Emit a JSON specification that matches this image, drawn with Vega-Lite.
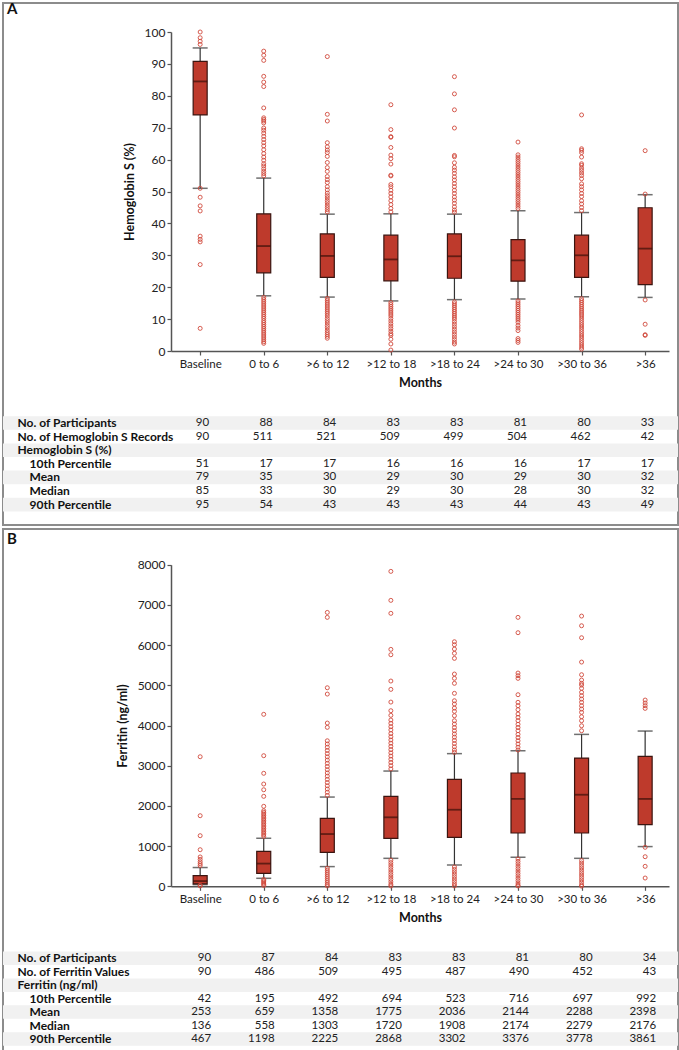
{
"$schema": "https://vega.github.io/schema/vega-lite/v6.json",
"padding": {"left": 2, "top": 1, "right": 0, "bottom": 0},
"background": "white",
"spacing": 2,
"config": {
  "font": "Lato",
  "view": {"stroke": "#8c8c8c", "strokeWidth": 2},
  "axis": {"labelFont": "Lato", "titleFont": "Lato", "labelColor": "#222", "titleColor": "#111", "domainColor": "#555", "tickColor": "#555", "grid": false},
  "title": {"font": "Lato"}
},
"datasets": {
  "boxA": [
    {"cat": "Baseline", "lo": 51, "q1": 74, "med": 84.5, "q3": 90.8, "hi": 95},
    {"cat": "0 to 6", "lo": 17.3, "q1": 24.5, "med": 32.9, "q3": 43, "hi": 54.2},
    {"cat": ">6 to 12", "lo": 16.9, "q1": 23.1, "med": 29.8, "q3": 36.7, "hi": 42.9},
    {"cat": ">12 to 18", "lo": 15.7, "q1": 22, "med": 28.7, "q3": 36.3, "hi": 43},
    {"cat": ">18 to 24", "lo": 16.1, "q1": 22.8, "med": 29.7, "q3": 36.7, "hi": 42.9},
    {"cat": ">24 to 30", "lo": 16.3, "q1": 21.9, "med": 28.4, "q3": 34.9, "hi": 44},
    {"cat": ">30 to 36", "lo": 17, "q1": 23.1, "med": 30, "q3": 36.3, "hi": 43.4},
    {"cat": ">36", "lo": 16.8, "q1": 20.8, "med": 32.1, "q3": 44.9, "hi": 49}
  ],
  "outA": [
    {"cat":"Baseline","v":100},{"cat":"Baseline","v":98.2},{"cat":"Baseline","v":97.1},{"cat":"Baseline","v":96.1},{"cat":"Baseline","v":51},{"cat":"Baseline","v":48.2},{"cat":"Baseline","v":45.5},{"cat":"Baseline","v":43.9},{"cat":"Baseline","v":36},{"cat":"Baseline","v":35},{"cat":"Baseline","v":34.2},{"cat":"Baseline","v":27.1},{"cat":"Baseline","v":7.1},
    {"cat":"0 to 6","v":94},{"cat":"0 to 6","v":92.7},{"cat":"0 to 6","v":91.1},{"cat":"0 to 6","v":86.1},{"cat":"0 to 6","v":84.3},{"cat":"0 to 6","v":82.9},{"cat":"0 to 6","v":76.2},{"cat":"0 to 6","v":73.1},{"cat":"0 to 6","v":72.6},{"cat":"0 to 6","v":72.1},{"cat":"0 to 6","v":71.5},{"cat":"0 to 6","v":69.9},{"cat":"0 to 6","v":69.2},{"cat":"0 to 6","v":68.3},{"cat":"0 to 6","v":67.3},{"cat":"0 to 6","v":66.3},{"cat":"0 to 6","v":65.3},{"cat":"0 to 6","v":64.3},{"cat":"0 to 6","v":63.1},{"cat":"0 to 6","v":61.9},{"cat":"0 to 6","v":60.8},{"cat":"0 to 6","v":59.8},{"cat":"0 to 6","v":58.7},{"cat":"0 to 6","v":58},{"cat":"0 to 6","v":57.1},{"cat":"0 to 6","v":56.3},{"cat":"0 to 6","v":55.6},{"cat":"0 to 6","v":54.9},
    {"cat":"0 to 6","v":16.8},{"cat":"0 to 6","v":16.2},{"cat":"0 to 6","v":15.6},{"cat":"0 to 6","v":15},{"cat":"0 to 6","v":14.4},{"cat":"0 to 6","v":13.8},{"cat":"0 to 6","v":13.2},{"cat":"0 to 6","v":12.6},{"cat":"0 to 6","v":12},{"cat":"0 to 6","v":11.4},{"cat":"0 to 6","v":10.8},{"cat":"0 to 6","v":10.2},{"cat":"0 to 6","v":9.5},{"cat":"0 to 6","v":8.9},{"cat":"0 to 6","v":8.3},{"cat":"0 to 6","v":7.7},{"cat":"0 to 6","v":7.1},{"cat":"0 to 6","v":6.5},{"cat":"0 to 6","v":5.9},{"cat":"0 to 6","v":5.3},{"cat":"0 to 6","v":4.7},{"cat":"0 to 6","v":4.1},{"cat":"0 to 6","v":3.5},{"cat":"0 to 6","v":2.9},{"cat":"0 to 6","v":2.4},
    {"cat":">6 to 12","v":92.3},{"cat":">6 to 12","v":74.2},{"cat":">6 to 12","v":72.1},{"cat":">6 to 12","v":65.3},{"cat":">6 to 12","v":64},{"cat":">6 to 12","v":63},{"cat":">6 to 12","v":62.2},{"cat":">6 to 12","v":61},{"cat":">6 to 12","v":59.1},{"cat":">6 to 12","v":57.5},{"cat":">6 to 12","v":56.3},{"cat":">6 to 12","v":54.7},{"cat":">6 to 12","v":53.7},{"cat":">6 to 12","v":52.8},{"cat":">6 to 12","v":51.5},{"cat":">6 to 12","v":50.5},{"cat":">6 to 12","v":49.5},{"cat":">6 to 12","v":48.7},{"cat":">6 to 12","v":48},{"cat":">6 to 12","v":47.2},{"cat":">6 to 12","v":46.5},{"cat":">6 to 12","v":45.7},{"cat":">6 to 12","v":45},{"cat":">6 to 12","v":44.3},{"cat":">6 to 12","v":43.6},
    {"cat":">6 to 12","v":16.5},{"cat":">6 to 12","v":15.9},{"cat":">6 to 12","v":15.3},{"cat":">6 to 12","v":14.7},{"cat":">6 to 12","v":14.1},{"cat":">6 to 12","v":13.5},{"cat":">6 to 12","v":12.9},{"cat":">6 to 12","v":12.3},{"cat":">6 to 12","v":11.7},{"cat":">6 to 12","v":11},{"cat":">6 to 12","v":10.2},{"cat":">6 to 12","v":9.5},{"cat":">6 to 12","v":8.8},{"cat":">6 to 12","v":8},{"cat":">6 to 12","v":7.3},{"cat":">6 to 12","v":6.5},{"cat":">6 to 12","v":5.8},{"cat":">6 to 12","v":5.2},{"cat":">6 to 12","v":4.6},{"cat":">6 to 12","v":4},
    {"cat":">12 to 18","v":77.2},{"cat":">12 to 18","v":69.4},{"cat":">12 to 18","v":67.2},{"cat":">12 to 18","v":67},{"cat":">12 to 18","v":63.8},{"cat":">12 to 18","v":61.4},{"cat":">12 to 18","v":60.3},{"cat":">12 to 18","v":58.6},{"cat":">12 to 18","v":55.1},{"cat":">12 to 18","v":54.9},{"cat":">12 to 18","v":52.2},{"cat":">12 to 18","v":51.5},{"cat":">12 to 18","v":50.4},{"cat":">12 to 18","v":49.4},{"cat":">12 to 18","v":48.3},{"cat":">12 to 18","v":47.1},{"cat":">12 to 18","v":45.9},{"cat":">12 to 18","v":44.7},{"cat":">12 to 18","v":43.6},
    {"cat":">12 to 18","v":15.2},{"cat":">12 to 18","v":14.6},{"cat":">12 to 18","v":14},{"cat":">12 to 18","v":13.4},{"cat":">12 to 18","v":12.8},{"cat":">12 to 18","v":12.2},{"cat":">12 to 18","v":11.6},{"cat":">12 to 18","v":11},{"cat":">12 to 18","v":10.2},{"cat":">12 to 18","v":9.4},{"cat":">12 to 18","v":8.6},{"cat":">12 to 18","v":7.8},{"cat":">12 to 18","v":7},{"cat":">12 to 18","v":6.2},{"cat":">12 to 18","v":5.4},{"cat":">12 to 18","v":4.9},{"cat":">12 to 18","v":3.7},{"cat":">12 to 18","v":2.2},{"cat":">12 to 18","v":0.3},
    {"cat":">18 to 24","v":86},{"cat":">18 to 24","v":80.6},{"cat":">18 to 24","v":75.6},{"cat":">18 to 24","v":69.9},{"cat":">18 to 24","v":61.3},{"cat":">18 to 24","v":60.9},{"cat":">18 to 24","v":59},{"cat":">18 to 24","v":57.6},{"cat":">18 to 24","v":56.7},{"cat":">18 to 24","v":55.7},{"cat":">18 to 24","v":54.6},{"cat":">18 to 24","v":53.6},{"cat":">18 to 24","v":52.5},{"cat":">18 to 24","v":51.5},{"cat":">18 to 24","v":50.4},{"cat":">18 to 24","v":49.4},{"cat":">18 to 24","v":48.3},{"cat":">18 to 24","v":47.3},{"cat":">18 to 24","v":46.3},{"cat":">18 to 24","v":45.2},{"cat":">18 to 24","v":44.2},{"cat":">18 to 24","v":43.5},
    {"cat":">18 to 24","v":15.4},{"cat":">18 to 24","v":14.8},{"cat":">18 to 24","v":14.2},{"cat":">18 to 24","v":13.6},{"cat":">18 to 24","v":13},{"cat":">18 to 24","v":12.4},{"cat":">18 to 24","v":11.8},{"cat":">18 to 24","v":11.2},{"cat":">18 to 24","v":10.6},{"cat":">18 to 24","v":10},{"cat":">18 to 24","v":9.2},{"cat":">18 to 24","v":8.4},{"cat":">18 to 24","v":7.6},{"cat":">18 to 24","v":6.8},{"cat":">18 to 24","v":6},{"cat":">18 to 24","v":5.2},{"cat":">18 to 24","v":4.4},{"cat":">18 to 24","v":3.6},{"cat":">18 to 24","v":2.8},{"cat":">18 to 24","v":2.2},
    {"cat":">24 to 30","v":65.5},{"cat":">24 to 30","v":61.5},{"cat":">24 to 30","v":60.8},{"cat":">24 to 30","v":60.1},{"cat":">24 to 30","v":59.4},{"cat":">24 to 30","v":58.7},{"cat":">24 to 30","v":58},{"cat":">24 to 30","v":57.3},{"cat":">24 to 30","v":56.6},{"cat":">24 to 30","v":55.9},{"cat":">24 to 30","v":55.2},{"cat":">24 to 30","v":54.5},{"cat":">24 to 30","v":53.8},{"cat":">24 to 30","v":53.1},{"cat":">24 to 30","v":52.4},{"cat":">24 to 30","v":51.7},{"cat":">24 to 30","v":51},{"cat":">24 to 30","v":50.3},{"cat":">24 to 30","v":49.6},{"cat":">24 to 30","v":48.9},{"cat":">24 to 30","v":48.2},{"cat":">24 to 30","v":47.5},{"cat":">24 to 30","v":46.8},{"cat":">24 to 30","v":46.1},{"cat":">24 to 30","v":45.4},{"cat":">24 to 30","v":44.7},
    {"cat":">24 to 30","v":15.7},{"cat":">24 to 30","v":15.1},{"cat":">24 to 30","v":14.5},{"cat":">24 to 30","v":13.9},{"cat":">24 to 30","v":13.3},{"cat":">24 to 30","v":12.7},{"cat":">24 to 30","v":12.1},{"cat":">24 to 30","v":11.5},{"cat":">24 to 30","v":10.9},{"cat":">24 to 30","v":10.3},{"cat":">24 to 30","v":9.7},{"cat":">24 to 30","v":9},{"cat":">24 to 30","v":8},{"cat":">24 to 30","v":7.2},{"cat":">24 to 30","v":6.4},{"cat":">24 to 30","v":3.9},{"cat":">24 to 30","v":3.3},{"cat":">24 to 30","v":2.7},
    {"cat":">30 to 36","v":74},{"cat":">30 to 36","v":63.4},{"cat":">30 to 36","v":62.9},{"cat":">30 to 36","v":62.2},{"cat":">30 to 36","v":60.8},{"cat":">30 to 36","v":58.7},{"cat":">30 to 36","v":58.2},{"cat":">30 to 36","v":57.3},{"cat":">30 to 36","v":56.6},{"cat":">30 to 36","v":55.8},{"cat":">30 to 36","v":55},{"cat":">30 to 36","v":54},{"cat":">30 to 36","v":52.4},{"cat":">30 to 36","v":51.5},{"cat":">30 to 36","v":50.5},{"cat":">30 to 36","v":49.4},{"cat":">30 to 36","v":48.4},{"cat":">30 to 36","v":47.1},{"cat":">30 to 36","v":46.1},{"cat":">30 to 36","v":45},{"cat":">30 to 36","v":44},
    {"cat":">30 to 36","v":16.4},{"cat":">30 to 36","v":15.8},{"cat":">30 to 36","v":15.2},{"cat":">30 to 36","v":14.6},{"cat":">30 to 36","v":14},{"cat":">30 to 36","v":13.4},{"cat":">30 to 36","v":12.8},{"cat":">30 to 36","v":12.2},{"cat":">30 to 36","v":11.6},{"cat":">30 to 36","v":11},{"cat":">30 to 36","v":10.3},{"cat":">30 to 36","v":9.6},{"cat":">30 to 36","v":8.9},{"cat":">30 to 36","v":8.2},{"cat":">30 to 36","v":7.5},{"cat":">30 to 36","v":6.8},{"cat":">30 to 36","v":6.1},{"cat":">30 to 36","v":5.4},{"cat":">30 to 36","v":4.7},{"cat":">30 to 36","v":4},{"cat":">30 to 36","v":3.3},{"cat":">30 to 36","v":2.6},{"cat":">30 to 36","v":1.9},{"cat":">30 to 36","v":1.2},{"cat":">30 to 36","v":0.6},
    {"cat":">36","v":62.8},{"cat":">36","v":49.2},{"cat":">36","v":16},{"cat":">36","v":8.4},{"cat":">36","v":5.1},{"cat":">36","v":4.9}
  ],
  "rowsA": [
    {"row": "No. of Participants"}, {"row": "No. of Hemoglobin S Records"}, {"row": "Hemoglobin S (%)"}, {"row": "10th Percentile"}, {"row": "Mean"}, {"row": "Median"}, {"row": "90th Percentile"}
  ],
  "tabA": [
    {"row":"No. of Participants","cat":"Baseline","val":"90"},{"row":"No. of Participants","cat":"0 to 6","val":"88"},{"row":"No. of Participants","cat":">6 to 12","val":"84"},{"row":"No. of Participants","cat":">12 to 18","val":"83"},{"row":"No. of Participants","cat":">18 to 24","val":"83"},{"row":"No. of Participants","cat":">24 to 30","val":"81"},{"row":"No. of Participants","cat":">30 to 36","val":"80"},{"row":"No. of Participants","cat":">36","val":"33"},
    {"row":"No. of Hemoglobin S Records","cat":"Baseline","val":"90"},{"row":"No. of Hemoglobin S Records","cat":"0 to 6","val":"511"},{"row":"No. of Hemoglobin S Records","cat":">6 to 12","val":"521"},{"row":"No. of Hemoglobin S Records","cat":">12 to 18","val":"509"},{"row":"No. of Hemoglobin S Records","cat":">18 to 24","val":"499"},{"row":"No. of Hemoglobin S Records","cat":">24 to 30","val":"504"},{"row":"No. of Hemoglobin S Records","cat":">30 to 36","val":"462"},{"row":"No. of Hemoglobin S Records","cat":">36","val":"42"},
    {"row":"10th Percentile","cat":"Baseline","val":"51"},{"row":"10th Percentile","cat":"0 to 6","val":"17"},{"row":"10th Percentile","cat":">6 to 12","val":"17"},{"row":"10th Percentile","cat":">12 to 18","val":"16"},{"row":"10th Percentile","cat":">18 to 24","val":"16"},{"row":"10th Percentile","cat":">24 to 30","val":"16"},{"row":"10th Percentile","cat":">30 to 36","val":"17"},{"row":"10th Percentile","cat":">36","val":"17"},
    {"row":"Mean","cat":"Baseline","val":"79"},{"row":"Mean","cat":"0 to 6","val":"35"},{"row":"Mean","cat":">6 to 12","val":"30"},{"row":"Mean","cat":">12 to 18","val":"29"},{"row":"Mean","cat":">18 to 24","val":"30"},{"row":"Mean","cat":">24 to 30","val":"29"},{"row":"Mean","cat":">30 to 36","val":"30"},{"row":"Mean","cat":">36","val":"32"},
    {"row":"Median","cat":"Baseline","val":"85"},{"row":"Median","cat":"0 to 6","val":"33"},{"row":"Median","cat":">6 to 12","val":"30"},{"row":"Median","cat":">12 to 18","val":"29"},{"row":"Median","cat":">18 to 24","val":"30"},{"row":"Median","cat":">24 to 30","val":"28"},{"row":"Median","cat":">30 to 36","val":"30"},{"row":"Median","cat":">36","val":"32"},
    {"row":"90th Percentile","cat":"Baseline","val":"95"},{"row":"90th Percentile","cat":"0 to 6","val":"54"},{"row":"90th Percentile","cat":">6 to 12","val":"43"},{"row":"90th Percentile","cat":">12 to 18","val":"43"},{"row":"90th Percentile","cat":">18 to 24","val":"43"},{"row":"90th Percentile","cat":">24 to 30","val":"44"},{"row":"90th Percentile","cat":">30 to 36","val":"43"},{"row":"90th Percentile","cat":">36","val":"49"}
  ],
  "boxB": [
    {"cat": "Baseline", "lo": 42, "q1": 60, "med": 130, "q3": 265, "hi": 467},
    {"cat": "0 to 6", "lo": 199, "q1": 323, "med": 565, "q3": 870, "hi": 1195},
    {"cat": ">6 to 12", "lo": 490, "q1": 846, "med": 1300, "q3": 1691, "hi": 2220},
    {"cat": ">12 to 18", "lo": 696, "q1": 1194, "med": 1716, "q3": 2238, "hi": 2867},
    {"cat": ">18 to 24", "lo": 530, "q1": 1219, "med": 1905, "q3": 2661, "hi": 3300},
    {"cat": ">24 to 30", "lo": 721, "q1": 1326, "med": 2176, "q3": 2818, "hi": 3375},
    {"cat": ">30 to 36", "lo": 696, "q1": 1326, "med": 2278, "q3": 3190, "hi": 3779},
    {"cat": ">36", "lo": 988, "q1": 1532, "med": 2174, "q3": 3233, "hi": 3862}
  ],
  "outB": [
    {"cat":"Baseline","v":3223},{"cat":"Baseline","v":1756},{"cat":"Baseline","v":1259},{"cat":"Baseline","v":910},{"cat":"Baseline","v":730},{"cat":"Baseline","v":670},{"cat":"Baseline","v":610},{"cat":"Baseline","v":560},{"cat":"Baseline","v":515},{"cat":"Baseline","v":25},{"cat":"Baseline","v":10},
    {"cat":"0 to 6","v":4278},{"cat":"0 to 6","v":3249},{"cat":"0 to 6","v":2811},{"cat":"0 to 6","v":2544},{"cat":"0 to 6","v":2402},{"cat":"0 to 6","v":2238},{"cat":"0 to 6","v":1990},{"cat":"0 to 6","v":1880},{"cat":"0 to 6","v":1840},{"cat":"0 to 6","v":1800},{"cat":"0 to 6","v":1760},{"cat":"0 to 6","v":1720},{"cat":"0 to 6","v":1680},{"cat":"0 to 6","v":1640},{"cat":"0 to 6","v":1600},{"cat":"0 to 6","v":1560},{"cat":"0 to 6","v":1520},{"cat":"0 to 6","v":1480},{"cat":"0 to 6","v":1440},{"cat":"0 to 6","v":1400},{"cat":"0 to 6","v":1360},{"cat":"0 to 6","v":1320},{"cat":"0 to 6","v":1280},{"cat":"0 to 6","v":1240},{"cat":"0 to 6","v":170},{"cat":"0 to 6","v":140},{"cat":"0 to 6","v":110},{"cat":"0 to 6","v":80},{"cat":"0 to 6","v":50},{"cat":"0 to 6","v":20},
    {"cat":">6 to 12","v":6813},{"cat":">6 to 12","v":6690},{"cat":">6 to 12","v":4939},{"cat":">6 to 12","v":4782},{"cat":">6 to 12","v":4061},{"cat":">6 to 12","v":3954},{"cat":">6 to 12","v":3620},{"cat":">6 to 12","v":3540},{"cat":">6 to 12","v":3460},{"cat":">6 to 12","v":3380},{"cat":">6 to 12","v":3300},{"cat":">6 to 12","v":3220},{"cat":">6 to 12","v":3140},{"cat":">6 to 12","v":3060},{"cat":">6 to 12","v":2980},{"cat":">6 to 12","v":2900},{"cat":">6 to 12","v":2820},{"cat":">6 to 12","v":2740},{"cat":">6 to 12","v":2660},{"cat":">6 to 12","v":2580},{"cat":">6 to 12","v":2500},{"cat":">6 to 12","v":2420},{"cat":">6 to 12","v":2340},{"cat":">6 to 12","v":2260},{"cat":">6 to 12","v":450},{"cat":">6 to 12","v":400},{"cat":">6 to 12","v":350},{"cat":">6 to 12","v":300},{"cat":">6 to 12","v":250},{"cat":">6 to 12","v":200},{"cat":">6 to 12","v":150},{"cat":">6 to 12","v":100},{"cat":">6 to 12","v":50},{"cat":">6 to 12","v":10},
    {"cat":">12 to 18","v":7834},{"cat":">12 to 18","v":7113},{"cat":">12 to 18","v":6790},{"cat":">12 to 18","v":5894},{"cat":">12 to 18","v":5760},{"cat":">12 to 18","v":5106},{"cat":">12 to 18","v":4899},{"cat":">12 to 18","v":4583},{"cat":">12 to 18","v":4368},{"cat":">12 to 18","v":4253},{"cat":">12 to 18","v":4136},{"cat":">12 to 18","v":4054},{"cat":">12 to 18","v":3970},{"cat":">12 to 18","v":3890},{"cat":">12 to 18","v":3800},{"cat":">12 to 18","v":3720},{"cat":">12 to 18","v":3640},{"cat":">12 to 18","v":3560},{"cat":">12 to 18","v":3480},{"cat":">12 to 18","v":3400},{"cat":">12 to 18","v":3320},{"cat":">12 to 18","v":3240},{"cat":">12 to 18","v":3160},{"cat":">12 to 18","v":3080},{"cat":">12 to 18","v":3000},{"cat":">12 to 18","v":2920},{"cat":">12 to 18","v":650},{"cat":">12 to 18","v":590},{"cat":">12 to 18","v":530},{"cat":">12 to 18","v":470},{"cat":">12 to 18","v":410},{"cat":">12 to 18","v":350},{"cat":">12 to 18","v":290},{"cat":">12 to 18","v":230},{"cat":">12 to 18","v":170},{"cat":">12 to 18","v":110},{"cat":">12 to 18","v":50},{"cat":">12 to 18","v":10},
    {"cat":">18 to 24","v":6083},{"cat":">18 to 24","v":6009},{"cat":">18 to 24","v":5902},{"cat":">18 to 24","v":5795},{"cat":">18 to 24","v":5670},{"cat":">18 to 24","v":5280},{"cat":">18 to 24","v":5173},{"cat":">18 to 24","v":5049},{"cat":">18 to 24","v":4800},{"cat":">18 to 24","v":4616},{"cat":">18 to 24","v":4534},{"cat":">18 to 24","v":4434},{"cat":">18 to 24","v":4352},{"cat":">18 to 24","v":4243},{"cat":">18 to 24","v":4119},{"cat":">18 to 24","v":4036},{"cat":">18 to 24","v":3950},{"cat":">18 to 24","v":3870},{"cat":">18 to 24","v":3790},{"cat":">18 to 24","v":3710},{"cat":">18 to 24","v":3630},{"cat":">18 to 24","v":3550},{"cat":">18 to 24","v":3470},{"cat":">18 to 24","v":3390},{"cat":">18 to 24","v":3330},{"cat":">18 to 24","v":480},{"cat":">18 to 24","v":420},{"cat":">18 to 24","v":360},{"cat":">18 to 24","v":300},{"cat":">18 to 24","v":240},{"cat":">18 to 24","v":180},{"cat":">18 to 24","v":120},{"cat":">18 to 24","v":60},{"cat":">18 to 24","v":10},
    {"cat":">24 to 30","v":6690},{"cat":">24 to 30","v":6308},{"cat":">24 to 30","v":5305},{"cat":">24 to 30","v":5238},{"cat":">24 to 30","v":5173},{"cat":">24 to 30","v":4766},{"cat":">24 to 30","v":4577},{"cat":">24 to 30","v":4492},{"cat":">24 to 30","v":4393},{"cat":">24 to 30","v":4285},{"cat":">24 to 30","v":4203},{"cat":">24 to 30","v":4119},{"cat":">24 to 30","v":4030},{"cat":">24 to 30","v":3950},{"cat":">24 to 30","v":3870},{"cat":">24 to 30","v":3780},{"cat":">24 to 30","v":3700},{"cat":">24 to 30","v":3620},{"cat":">24 to 30","v":3540},{"cat":">24 to 30","v":3460},{"cat":">24 to 30","v":3390},{"cat":">24 to 30","v":680},{"cat":">24 to 30","v":620},{"cat":">24 to 30","v":560},{"cat":">24 to 30","v":500},{"cat":">24 to 30","v":440},{"cat":">24 to 30","v":380},{"cat":">24 to 30","v":320},{"cat":">24 to 30","v":260},{"cat":">24 to 30","v":200},{"cat":">24 to 30","v":140},{"cat":">24 to 30","v":80},{"cat":">24 to 30","v":30},{"cat":">24 to 30","v":10},
    {"cat":">30 to 36","v":6722},{"cat":">30 to 36","v":6481},{"cat":">30 to 36","v":6183},{"cat":">30 to 36","v":5578},{"cat":">30 to 36","v":5263},{"cat":">30 to 36","v":5131},{"cat":">30 to 36","v":5049},{"cat":">30 to 36","v":5006},{"cat":">30 to 36","v":4924},{"cat":">30 to 36","v":4825},{"cat":">30 to 36","v":4741},{"cat":">30 to 36","v":4658},{"cat":">30 to 36","v":4577},{"cat":">30 to 36","v":4492},{"cat":">30 to 36","v":4410},{"cat":">30 to 36","v":4327},{"cat":">30 to 36","v":4218},{"cat":">30 to 36","v":4119},{"cat":">30 to 36","v":3994},{"cat":">30 to 36","v":3870},{"cat":">30 to 36","v":640},{"cat":">30 to 36","v":580},{"cat":">30 to 36","v":520},{"cat":">30 to 36","v":460},{"cat":">30 to 36","v":400},{"cat":">30 to 36","v":340},{"cat":">30 to 36","v":280},{"cat":">30 to 36","v":220},{"cat":">30 to 36","v":160},{"cat":">30 to 36","v":100},{"cat":">30 to 36","v":40},{"cat":">30 to 36","v":5},
    {"cat":">36","v":4633},{"cat":">36","v":4559},{"cat":">36","v":4492},{"cat":">36","v":4426},{"cat":">36","v":970},{"cat":">36","v":736},{"cat":">36","v":497},{"cat":">36","v":206}
  ],
  "rowsB": [
    {"row": "No. of Participants"}, {"row": "No. of Ferritin Values"}, {"row": "Ferritin (ng/ml)"}, {"row": "10th Percentile"}, {"row": "Mean"}, {"row": "Median"}, {"row": "90th Percentile"}
  ],
  "tabB": [
    {"row":"No. of Participants","cat":"Baseline","val":"90"},{"row":"No. of Participants","cat":"0 to 6","val":"87"},{"row":"No. of Participants","cat":">6 to 12","val":"84"},{"row":"No. of Participants","cat":">12 to 18","val":"83"},{"row":"No. of Participants","cat":">18 to 24","val":"83"},{"row":"No. of Participants","cat":">24 to 30","val":"81"},{"row":"No. of Participants","cat":">30 to 36","val":"80"},{"row":"No. of Participants","cat":">36","val":"34"},
    {"row":"No. of Ferritin Values","cat":"Baseline","val":"90"},{"row":"No. of Ferritin Values","cat":"0 to 6","val":"486"},{"row":"No. of Ferritin Values","cat":">6 to 12","val":"509"},{"row":"No. of Ferritin Values","cat":">12 to 18","val":"495"},{"row":"No. of Ferritin Values","cat":">18 to 24","val":"487"},{"row":"No. of Ferritin Values","cat":">24 to 30","val":"490"},{"row":"No. of Ferritin Values","cat":">30 to 36","val":"452"},{"row":"No. of Ferritin Values","cat":">36","val":"43"},
    {"row":"10th Percentile","cat":"Baseline","val":"42"},{"row":"10th Percentile","cat":"0 to 6","val":"195"},{"row":"10th Percentile","cat":">6 to 12","val":"492"},{"row":"10th Percentile","cat":">12 to 18","val":"694"},{"row":"10th Percentile","cat":">18 to 24","val":"523"},{"row":"10th Percentile","cat":">24 to 30","val":"716"},{"row":"10th Percentile","cat":">30 to 36","val":"697"},{"row":"10th Percentile","cat":">36","val":"992"},
    {"row":"Mean","cat":"Baseline","val":"253"},{"row":"Mean","cat":"0 to 6","val":"659"},{"row":"Mean","cat":">6 to 12","val":"1358"},{"row":"Mean","cat":">12 to 18","val":"1775"},{"row":"Mean","cat":">18 to 24","val":"2036"},{"row":"Mean","cat":">24 to 30","val":"2144"},{"row":"Mean","cat":">30 to 36","val":"2288"},{"row":"Mean","cat":">36","val":"2398"},
    {"row":"Median","cat":"Baseline","val":"136"},{"row":"Median","cat":"0 to 6","val":"558"},{"row":"Median","cat":">6 to 12","val":"1303"},{"row":"Median","cat":">12 to 18","val":"1720"},{"row":"Median","cat":">18 to 24","val":"1908"},{"row":"Median","cat":">24 to 30","val":"2174"},{"row":"Median","cat":">30 to 36","val":"2279"},{"row":"Median","cat":">36","val":"2176"},
    {"row":"90th Percentile","cat":"Baseline","val":"467"},{"row":"90th Percentile","cat":"0 to 6","val":"1198"},{"row":"90th Percentile","cat":">6 to 12","val":"2225"},{"row":"90th Percentile","cat":">12 to 18","val":"2868"},{"row":"90th Percentile","cat":">18 to 24","val":"3302"},{"row":"90th Percentile","cat":">24 to 30","val":"3376"},{"row":"90th Percentile","cat":">30 to 36","val":"3778"},{"row":"90th Percentile","cat":">36","val":"3861"}
  ]
},
"vconcat": [
  {
    "width": 675, "height": 522,
    "title": {"text": "A", "anchor": "start", "frame": "group", "offset": -14, "dx": 4, "fontSize": 15, "fontWeight": "bold", "color": "#111"},
    "resolve": {"scale": {"y": "independent"}},
    "layer": [
      {
        "layer": [
          {"data": {"name": "boxA"}, "mark": {"type": "rule", "color": "#333", "strokeWidth": 1.2},
           "encoding": {
             "x": {"field": "cat", "type": "nominal", "scale": {"type": "point", "domain": ["Baseline","0 to 6",">6 to 12",">12 to 18",">18 to 24",">24 to 30",">30 to 36",">36"], "range": [168, 666], "padding": 0.417, "align": 0.55}, "axis": {"orient": "bottom", "offset": -174, "title": "Months", "labelAngle": 0, "labelFontSize": 11.5, "labelPadding": 3, "tickSize": 4, "tickWidth": 1.2, "domainWidth": 1.5, "titleFontSize": 12.5, "titleFontWeight": "bold", "titlePadding": 7}},
             "y": {"field": "lo", "type": "quantitative", "scale": {"domain": [0, 100], "range": [348, 29], "nice": false, "zero": false}, "axis": {"orient": "left", "offset": -168, "title": "Hemoglobin S (%)", "values": [0,10,20,30,40,50,60,70,80,90,100], "tickSize": 4, "tickWidth": 1.2, "domainWidth": 1.5, "labelFontSize": 12, "labelPadding": 2, "titleFontSize": 12.5, "titleFontWeight": "bold", "titlePadding": 8}},
             "y2": {"field": "hi"}
           }},
          {"data": {"name": "boxA"}, "mark": {"type": "tick", "orient": "horizontal", "size": 15, "thickness": 1.5, "color": "#333"},
           "encoding": {
             "x": {"field": "cat", "type": "nominal", "scale": {"type": "point", "domain": ["Baseline","0 to 6",">6 to 12",">12 to 18",">18 to 24",">24 to 30",">30 to 36",">36"], "range": [168, 666], "padding": 0.417, "align": 0.55}, "axis": {"orient": "bottom", "offset": -174, "title": "Months", "labelAngle": 0, "labelFontSize": 11.5, "labelPadding": 3, "tickSize": 4, "tickWidth": 1.2, "domainWidth": 1.5, "titleFontSize": 12.5, "titleFontWeight": "bold", "titlePadding": 7}},
             "y": {"field": "lo", "type": "quantitative", "scale": {"domain": [0, 100], "range": [348, 29], "nice": false, "zero": false}, "axis": {"orient": "left", "offset": -168, "title": "Hemoglobin S (%)", "values": [0,10,20,30,40,50,60,70,80,90,100], "tickSize": 4, "tickWidth": 1.2, "domainWidth": 1.5, "labelFontSize": 12, "labelPadding": 2, "titleFontSize": 12.5, "titleFontWeight": "bold", "titlePadding": 8}}
           }},
          {"data": {"name": "boxA"}, "mark": {"type": "tick", "orient": "horizontal", "size": 15, "thickness": 1.5, "color": "#333"},
           "encoding": {
             "x": {"field": "cat", "type": "nominal", "scale": {"type": "point", "domain": ["Baseline","0 to 6",">6 to 12",">12 to 18",">18 to 24",">24 to 30",">30 to 36",">36"], "range": [168, 666], "padding": 0.417, "align": 0.55}, "axis": {"orient": "bottom", "offset": -174, "title": "Months", "labelAngle": 0, "labelFontSize": 11.5, "labelPadding": 3, "tickSize": 4, "tickWidth": 1.2, "domainWidth": 1.5, "titleFontSize": 12.5, "titleFontWeight": "bold", "titlePadding": 7}},
             "y": {"field": "hi", "type": "quantitative", "scale": {"domain": [0, 100], "range": [348, 29], "nice": false, "zero": false}, "axis": {"orient": "left", "offset": -168, "title": "Hemoglobin S (%)", "values": [0,10,20,30,40,50,60,70,80,90,100], "tickSize": 4, "tickWidth": 1.2, "domainWidth": 1.5, "labelFontSize": 12, "labelPadding": 2, "titleFontSize": 12.5, "titleFontWeight": "bold", "titlePadding": 8}}
           }},
          {"data": {"name": "boxA"}, "mark": {"type": "bar", "width": 14, "fill": "#be3a2c", "stroke": "#3a1510", "strokeWidth": 1.2},
           "encoding": {
             "x": {"field": "cat", "type": "nominal", "scale": {"type": "point", "domain": ["Baseline","0 to 6",">6 to 12",">12 to 18",">18 to 24",">24 to 30",">30 to 36",">36"], "range": [168, 666], "padding": 0.417, "align": 0.55}, "axis": {"orient": "bottom", "offset": -174, "title": "Months", "labelAngle": 0, "labelFontSize": 11.5, "labelPadding": 3, "tickSize": 4, "tickWidth": 1.2, "domainWidth": 1.5, "titleFontSize": 12.5, "titleFontWeight": "bold", "titlePadding": 7}},
             "y": {"field": "q1", "type": "quantitative", "scale": {"domain": [0, 100], "range": [348, 29], "nice": false, "zero": false}, "axis": {"orient": "left", "offset": -168, "title": "Hemoglobin S (%)", "values": [0,10,20,30,40,50,60,70,80,90,100], "tickSize": 4, "tickWidth": 1.2, "domainWidth": 1.5, "labelFontSize": 12, "labelPadding": 2, "titleFontSize": 12.5, "titleFontWeight": "bold", "titlePadding": 8}},
             "y2": {"field": "q3"}
           }},
          {"data": {"name": "boxA"}, "mark": {"type": "tick", "orient": "horizontal", "size": 14, "thickness": 1.8, "color": "#3a0f08"},
           "encoding": {
             "x": {"field": "cat", "type": "nominal", "scale": {"type": "point", "domain": ["Baseline","0 to 6",">6 to 12",">12 to 18",">18 to 24",">24 to 30",">30 to 36",">36"], "range": [168, 666], "padding": 0.417, "align": 0.55}, "axis": {"orient": "bottom", "offset": -174, "title": "Months", "labelAngle": 0, "labelFontSize": 11.5, "labelPadding": 3, "tickSize": 4, "tickWidth": 1.2, "domainWidth": 1.5, "titleFontSize": 12.5, "titleFontWeight": "bold", "titlePadding": 7}},
             "y": {"field": "med", "type": "quantitative", "scale": {"domain": [0, 100], "range": [348, 29], "nice": false, "zero": false}, "axis": {"orient": "left", "offset": -168, "title": "Hemoglobin S (%)", "values": [0,10,20,30,40,50,60,70,80,90,100], "tickSize": 4, "tickWidth": 1.2, "domainWidth": 1.5, "labelFontSize": 12, "labelPadding": 2, "titleFontSize": 12.5, "titleFontWeight": "bold", "titlePadding": 8}}
           }},
          {"data": {"name": "outA"}, "mark": {"type": "point", "shape": "circle", "filled": false, "size": 16, "strokeWidth": 0.9, "color": "#d04a3c", "opacity": 1},
           "encoding": {
             "x": {"field": "cat", "type": "nominal", "scale": {"type": "point", "domain": ["Baseline","0 to 6",">6 to 12",">12 to 18",">18 to 24",">24 to 30",">30 to 36",">36"], "range": [168, 666], "padding": 0.417, "align": 0.55}, "axis": {"orient": "bottom", "offset": -174, "title": "Months", "labelAngle": 0, "labelFontSize": 11.5, "labelPadding": 3, "tickSize": 4, "tickWidth": 1.2, "domainWidth": 1.5, "titleFontSize": 12.5, "titleFontWeight": "bold", "titlePadding": 7}},
             "y": {"field": "v", "type": "quantitative", "scale": {"domain": [0, 100], "range": [348, 29], "nice": false, "zero": false}, "axis": {"orient": "left", "offset": -168, "title": "Hemoglobin S (%)", "values": [0,10,20,30,40,50,60,70,80,90,100], "tickSize": 4, "tickWidth": 1.2, "domainWidth": 1.5, "labelFontSize": 12, "labelPadding": 2, "titleFontSize": 12.5, "titleFontWeight": "bold", "titlePadding": 8}}
           }}
        ]
      },
      {
        "layer": [
          {"data": {"name": "rowsA"},
           "transform": [{"filter": "datum.row == 'No. of Participants' || datum.row == 'Hemoglobin S (%)' || datum.row == 'Mean' || datum.row == '90th Percentile'"}],
           "mark": {"type": "rect", "color": "#f1f1f1"},
           "encoding": {
             "y": {"field": "row", "type": "nominal", "scale": {"type": "band", "domain": ["No. of Participants","No. of Hemoglobin S Records","Hemoglobin S (%)","10th Percentile","Mean","Median","90th Percentile"], "range": [413.2, 508.4], "paddingInner": 0, "paddingOuter": 0}, "axis": {"orient": "left", "offset": -14, "title": null, "domain": false, "ticks": false, "tickSize": 0, "labelAlign": "left", "labelBaseline": "middle", "labelPadding": {"condition": {"test": "datum.value == '10th Percentile' || datum.value == 'Mean' || datum.value == 'Median' || datum.value == '90th Percentile'", "value": -12}, "value": 0}, "labelFontSize": 12, "labelFontWeight": "bold", "labelColor": "#111", "labelLimit": 400, "zindex": 2}}
           }},
          {"data": {"name": "tabA"},
           "mark": {"type": "text", "align": "right", "dx": 9, "baseline": "middle", "fontSize": 11.5, "color": "#222"},
           "encoding": {
             "x": {"field": "cat", "type": "nominal", "scale": {"type": "point", "domain": ["Baseline","0 to 6",">6 to 12",">12 to 18",">18 to 24",">24 to 30",">30 to 36",">36"], "range": [168, 666], "padding": 0.417, "align": 0.55}, "axis": {"orient": "bottom", "offset": -174, "title": "Months", "labelAngle": 0, "labelFontSize": 11.5, "labelPadding": 3, "tickSize": 4, "tickWidth": 1.2, "domainWidth": 1.5, "titleFontSize": 12.5, "titleFontWeight": "bold", "titlePadding": 7}},
             "y": {"field": "row", "type": "nominal", "scale": {"type": "band", "domain": ["No. of Participants","No. of Hemoglobin S Records","Hemoglobin S (%)","10th Percentile","Mean","Median","90th Percentile"], "range": [413.2, 508.4], "paddingInner": 0, "paddingOuter": 0}, "axis": {"orient": "left", "offset": -14, "title": null, "domain": false, "ticks": false, "tickSize": 0, "labelAlign": "left", "labelBaseline": "middle", "labelPadding": {"condition": {"test": "datum.value == '10th Percentile' || datum.value == 'Mean' || datum.value == 'Median' || datum.value == '90th Percentile'", "value": -12}, "value": 0}, "labelFontSize": 12, "labelFontWeight": "bold", "labelColor": "#111", "labelLimit": 400, "zindex": 2}},
             "text": {"field": "val", "type": "nominal"}
           }}
        ]
      }
    ]
  },
  {
    "width": 675, "height": 522,
    "title": {"text": "B", "anchor": "start", "frame": "group", "offset": -18, "dx": 4, "fontSize": 15, "fontWeight": "bold", "color": "#111"},
    "resolve": {"scale": {"y": "independent"}},
    "layer": [
      {
        "layer": [
          {"data": {"name": "boxB"}, "mark": {"type": "rule", "color": "#333", "strokeWidth": 1.2},
           "encoding": {
             "x": {"field": "cat", "type": "nominal", "scale": {"type": "point", "domain": ["Baseline","0 to 6",">6 to 12",">12 to 18",">18 to 24",">24 to 30",">30 to 36",">36"], "range": [168, 666], "padding": 0.417, "align": 0.55}, "axis": {"orient": "bottom", "offset": -164.7, "title": "Months", "labelAngle": 0, "labelFontSize": 11.5, "labelPadding": 3, "tickSize": 4, "tickWidth": 1.2, "domainWidth": 1.5, "titleFontSize": 12.5, "titleFontWeight": "bold", "titlePadding": 7}},
             "y": {"field": "lo", "type": "quantitative", "scale": {"domain": [0, 8000], "range": [357.3, 35.7], "nice": false, "zero": false}, "axis": {"orient": "left", "offset": -168, "title": "Ferritin (ng/ml)", "values": [0,1000,2000,3000,4000,5000,6000,7000,8000], "format": "d", "tickSize": 4, "tickWidth": 1.2, "domainWidth": 1.5, "labelFontSize": 12, "labelPadding": 2, "titleFontSize": 12.5, "titleFontWeight": "bold", "titlePadding": 8}},
             "y2": {"field": "hi"}
           }},
          {"data": {"name": "boxB"}, "mark": {"type": "tick", "orient": "horizontal", "size": 15, "thickness": 1.5, "color": "#333"},
           "encoding": {
             "x": {"field": "cat", "type": "nominal", "scale": {"type": "point", "domain": ["Baseline","0 to 6",">6 to 12",">12 to 18",">18 to 24",">24 to 30",">30 to 36",">36"], "range": [168, 666], "padding": 0.417, "align": 0.55}, "axis": {"orient": "bottom", "offset": -164.7, "title": "Months", "labelAngle": 0, "labelFontSize": 11.5, "labelPadding": 3, "tickSize": 4, "tickWidth": 1.2, "domainWidth": 1.5, "titleFontSize": 12.5, "titleFontWeight": "bold", "titlePadding": 7}},
             "y": {"field": "lo", "type": "quantitative", "scale": {"domain": [0, 8000], "range": [357.3, 35.7], "nice": false, "zero": false}, "axis": {"orient": "left", "offset": -168, "title": "Ferritin (ng/ml)", "values": [0,1000,2000,3000,4000,5000,6000,7000,8000], "format": "d", "tickSize": 4, "tickWidth": 1.2, "domainWidth": 1.5, "labelFontSize": 12, "labelPadding": 2, "titleFontSize": 12.5, "titleFontWeight": "bold", "titlePadding": 8}}
           }},
          {"data": {"name": "boxB"}, "mark": {"type": "tick", "orient": "horizontal", "size": 15, "thickness": 1.5, "color": "#333"},
           "encoding": {
             "x": {"field": "cat", "type": "nominal", "scale": {"type": "point", "domain": ["Baseline","0 to 6",">6 to 12",">12 to 18",">18 to 24",">24 to 30",">30 to 36",">36"], "range": [168, 666], "padding": 0.417, "align": 0.55}, "axis": {"orient": "bottom", "offset": -164.7, "title": "Months", "labelAngle": 0, "labelFontSize": 11.5, "labelPadding": 3, "tickSize": 4, "tickWidth": 1.2, "domainWidth": 1.5, "titleFontSize": 12.5, "titleFontWeight": "bold", "titlePadding": 7}},
             "y": {"field": "hi", "type": "quantitative", "scale": {"domain": [0, 8000], "range": [357.3, 35.7], "nice": false, "zero": false}, "axis": {"orient": "left", "offset": -168, "title": "Ferritin (ng/ml)", "values": [0,1000,2000,3000,4000,5000,6000,7000,8000], "format": "d", "tickSize": 4, "tickWidth": 1.2, "domainWidth": 1.5, "labelFontSize": 12, "labelPadding": 2, "titleFontSize": 12.5, "titleFontWeight": "bold", "titlePadding": 8}}
           }},
          {"data": {"name": "boxB"}, "mark": {"type": "bar", "width": 14, "fill": "#be3a2c", "stroke": "#3a1510", "strokeWidth": 1.2},
           "encoding": {
             "x": {"field": "cat", "type": "nominal", "scale": {"type": "point", "domain": ["Baseline","0 to 6",">6 to 12",">12 to 18",">18 to 24",">24 to 30",">30 to 36",">36"], "range": [168, 666], "padding": 0.417, "align": 0.55}, "axis": {"orient": "bottom", "offset": -164.7, "title": "Months", "labelAngle": 0, "labelFontSize": 11.5, "labelPadding": 3, "tickSize": 4, "tickWidth": 1.2, "domainWidth": 1.5, "titleFontSize": 12.5, "titleFontWeight": "bold", "titlePadding": 7}},
             "y": {"field": "q1", "type": "quantitative", "scale": {"domain": [0, 8000], "range": [357.3, 35.7], "nice": false, "zero": false}, "axis": {"orient": "left", "offset": -168, "title": "Ferritin (ng/ml)", "values": [0,1000,2000,3000,4000,5000,6000,7000,8000], "format": "d", "tickSize": 4, "tickWidth": 1.2, "domainWidth": 1.5, "labelFontSize": 12, "labelPadding": 2, "titleFontSize": 12.5, "titleFontWeight": "bold", "titlePadding": 8}},
             "y2": {"field": "q3"}
           }},
          {"data": {"name": "boxB"}, "mark": {"type": "tick", "orient": "horizontal", "size": 14, "thickness": 1.8, "color": "#3a0f08"},
           "encoding": {
             "x": {"field": "cat", "type": "nominal", "scale": {"type": "point", "domain": ["Baseline","0 to 6",">6 to 12",">12 to 18",">18 to 24",">24 to 30",">30 to 36",">36"], "range": [168, 666], "padding": 0.417, "align": 0.55}, "axis": {"orient": "bottom", "offset": -164.7, "title": "Months", "labelAngle": 0, "labelFontSize": 11.5, "labelPadding": 3, "tickSize": 4, "tickWidth": 1.2, "domainWidth": 1.5, "titleFontSize": 12.5, "titleFontWeight": "bold", "titlePadding": 7}},
             "y": {"field": "med", "type": "quantitative", "scale": {"domain": [0, 8000], "range": [357.3, 35.7], "nice": false, "zero": false}, "axis": {"orient": "left", "offset": -168, "title": "Ferritin (ng/ml)", "values": [0,1000,2000,3000,4000,5000,6000,7000,8000], "format": "d", "tickSize": 4, "tickWidth": 1.2, "domainWidth": 1.5, "labelFontSize": 12, "labelPadding": 2, "titleFontSize": 12.5, "titleFontWeight": "bold", "titlePadding": 8}}
           }},
          {"data": {"name": "outB"}, "mark": {"type": "point", "shape": "circle", "filled": false, "size": 16, "strokeWidth": 0.9, "color": "#d04a3c", "opacity": 1},
           "encoding": {
             "x": {"field": "cat", "type": "nominal", "scale": {"type": "point", "domain": ["Baseline","0 to 6",">6 to 12",">12 to 18",">18 to 24",">24 to 30",">30 to 36",">36"], "range": [168, 666], "padding": 0.417, "align": 0.55}, "axis": {"orient": "bottom", "offset": -164.7, "title": "Months", "labelAngle": 0, "labelFontSize": 11.5, "labelPadding": 3, "tickSize": 4, "tickWidth": 1.2, "domainWidth": 1.5, "titleFontSize": 12.5, "titleFontWeight": "bold", "titlePadding": 7}},
             "y": {"field": "v", "type": "quantitative", "scale": {"domain": [0, 8000], "range": [357.3, 35.7], "nice": false, "zero": false}, "axis": {"orient": "left", "offset": -168, "title": "Ferritin (ng/ml)", "values": [0,1000,2000,3000,4000,5000,6000,7000,8000], "format": "d", "tickSize": 4, "tickWidth": 1.2, "domainWidth": 1.5, "labelFontSize": 12, "labelPadding": 2, "titleFontSize": 12.5, "titleFontWeight": "bold", "titlePadding": 8}}
           }}
        ]
      },
      {
        "layer": [
          {"data": {"name": "rowsB"},
           "transform": [{"filter": "datum.row == 'No. of Participants' || datum.row == 'Ferritin (ng/ml)' || datum.row == 'Mean' || datum.row == '90th Percentile'"}],
           "mark": {"type": "rect", "color": "#f1f1f1"},
           "encoding": {
             "y": {"field": "row", "type": "nominal", "scale": {"type": "band", "domain": ["No. of Participants","No. of Ferritin Values","Ferritin (ng/ml)","10th Percentile","Mean","Median","90th Percentile"], "range": [422.6, 516.7], "paddingInner": 0, "paddingOuter": 0}, "axis": {"orient": "left", "offset": -14, "title": null, "domain": false, "ticks": false, "tickSize": 0, "labelAlign": "left", "labelBaseline": "middle", "labelPadding": {"condition": {"test": "datum.value == '10th Percentile' || datum.value == 'Mean' || datum.value == 'Median' || datum.value == '90th Percentile'", "value": -12}, "value": 0}, "labelFontSize": 12, "labelFontWeight": "bold", "labelColor": "#111", "labelLimit": 400, "zindex": 2}}
           }},
          {"data": {"name": "tabB"},
           "mark": {"type": "text", "align": "right", "dx": 11, "baseline": "middle", "fontSize": 11.5, "color": "#222"},
           "encoding": {
             "x": {"field": "cat", "type": "nominal", "scale": {"type": "point", "domain": ["Baseline","0 to 6",">6 to 12",">12 to 18",">18 to 24",">24 to 30",">30 to 36",">36"], "range": [168, 666], "padding": 0.417, "align": 0.55}, "axis": {"orient": "bottom", "offset": -164.7, "title": "Months", "labelAngle": 0, "labelFontSize": 11.5, "labelPadding": 3, "tickSize": 4, "tickWidth": 1.2, "domainWidth": 1.5, "titleFontSize": 12.5, "titleFontWeight": "bold", "titlePadding": 7}},
             "y": {"field": "row", "type": "nominal", "scale": {"type": "band", "domain": ["No. of Participants","No. of Ferritin Values","Ferritin (ng/ml)","10th Percentile","Mean","Median","90th Percentile"], "range": [422.6, 516.7], "paddingInner": 0, "paddingOuter": 0}, "axis": {"orient": "left", "offset": -14, "title": null, "domain": false, "ticks": false, "tickSize": 0, "labelAlign": "left", "labelBaseline": "middle", "labelPadding": {"condition": {"test": "datum.value == '10th Percentile' || datum.value == 'Mean' || datum.value == 'Median' || datum.value == '90th Percentile'", "value": -12}, "value": 0}, "labelFontSize": 12, "labelFontWeight": "bold", "labelColor": "#111", "labelLimit": 400, "zindex": 2}},
             "text": {"field": "val", "type": "nominal"}
           }}
        ]
      }
    ]
  }
]
}
